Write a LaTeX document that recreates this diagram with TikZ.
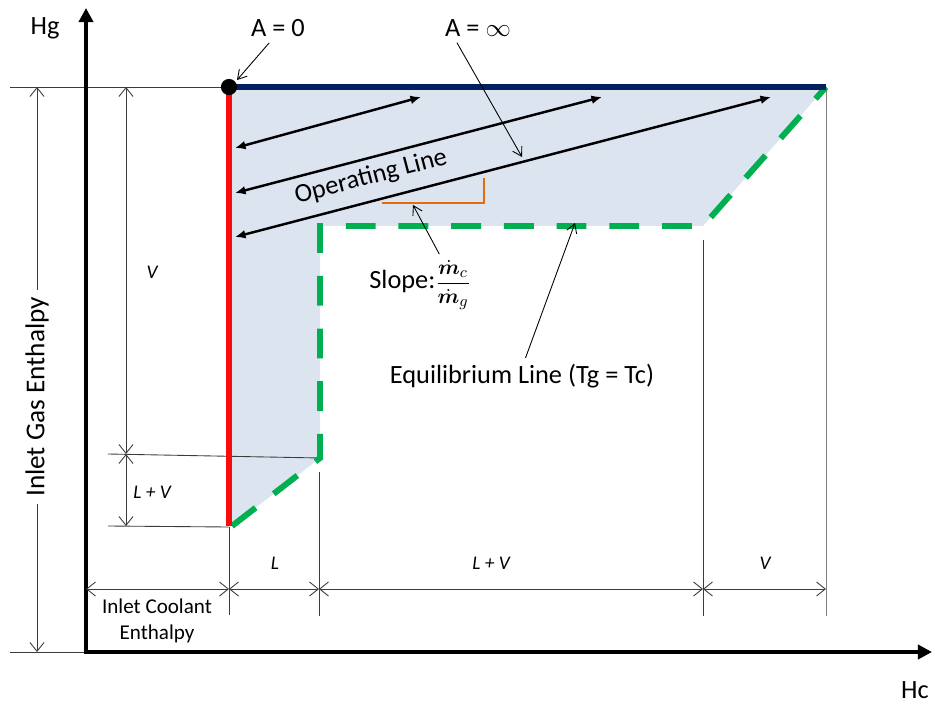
\documentclass[tikz,border=0pt]{standalone}
\usepackage{amsmath,bm}
\usepackage{fontspec}
\setmainfont{Carlito}
\usetikzlibrary{arrows.meta}
\definecolor{HeatNavy}{RGB}{0,32,96}
\definecolor{CoolRed}{RGB}{250,10,10}
\definecolor{EqGreen}{RGB}{0,176,80}
\definecolor{ShadeBlue}{RGB}{220,228,240}
\definecolor{SlopeOrange}{RGB}{228,108,10}
\definecolor{DimGray}{RGB}{60,60,60}

\begin{document}
\begin{tikzpicture}[x=0.02cm,y=-0.02cm,>=Latex,
    axis/.style={line width=2.2pt,-{Triangle[length=8pt,width=8pt]}},
    extline/.style={DimGray,line width=0.5pt},
    dimline/.style={DimGray,line width=0.5pt,{Straight Barb[length=5pt,width=8pt]}-{Straight Barb[length=5pt,width=8pt]}},
    dimarrow/.style={DimGray,line width=0.5pt,-{Straight Barb[length=5pt,width=8pt]}},
    opline/.style={line width=1.4pt,{Latex[length=6pt,width=5pt]}-{Latex[length=6pt,width=5pt]}},
    callout/.style={line width=0.5pt,-{Straight Barb[length=5pt,width=6pt]}},
    lbl/.style={font=\fontsize{15}{17}\selectfont},
    dimlbl/.style={font=\fontsize{11}{13}\selectfont\itshape}]
      \useasboundingbox (0,0) rectangle (935,709);
      \coordinate (top) at (229,87);
      \coordinate (topright) at (826,87);
      \coordinate (redend) at (229,526);
      \fill[ShadeBlue] (top) -- (topright) -- (703,226) -- (320,226) -- (320,458) -- (232,526) -- (redend) -- cycle;
      \draw[extline] (10,87) -- (top);
      \draw[extline] (10,652) -- (86,652);
      \draw[extline] (108,454) -- (320,458);
      \draw[extline] (108,526) -- (229,527);
      \draw[extline] (229,527) -- (229,615);
      \draw[extline] (319,472) -- (319,616);
      \draw[extline] (703,240) -- (703,616);
      \draw[extline,gray] (topright) -- (826,616);
      \draw[axis] (86,654) -- (86,8);
      \draw[axis] (84,652) -- (932,652);
      \draw[dimline] (126,87) -- (126,454);
      \draw[dimline] (126,454) -- (126,526);
      \draw[dimline] (86,589) -- (229,589);
      \draw[dimline] (229,589) -- (319,589);
      \draw[dimline] (319,589) -- (703,589);
      \draw[dimline] (703,589) -- (826,589);
      \node[lbl,rotate=90,fill=white,inner sep=4pt,font=\fontsize{15.5}{17}\selectfont] (gaslbl) at (37,397) {Inlet Gas Enthalpy};
      \draw[dimarrow] (gaslbl.east) -- (37,87);
      \draw[dimarrow] (gaslbl.west) -- (37,652);
      \node[dimlbl] (vlbl) at (152,272) {V};
      \node[dimlbl] (lvlbl) at (152,492) {L + V};
      \node[dimlbl] (llbl) at (275,563) {L};
      \node[dimlbl] (lvlbl2) at (491,563) {L + V};
      \node[dimlbl] (vlbl2) at (765,563) {V};
      \node[font=\fontsize{12}{15}\selectfont,align=center] (coollbl) at (157,621) {Inlet Coolant\\Enthalpy};
      \draw[EqGreen,line width=3.4pt,dash pattern=on 17pt off 13pt] (232,526) -- (320,458) -- (320,226) -- (703,226) -- (topright);
      \draw[HeatNavy,line width=3.2pt] (top) -- (topright);
      \draw[CoolRed,line width=3.2pt] (top) -- (redend);
      \fill (top) circle[radius=4.6pt];
      \foreach \ya/\xb in {148/421,193/602,237/771}
        \draw[opline] (235,\ya) -- (\xb,97);
      \draw[SlopeOrange,line width=1.3pt] (382,203) -- (484,203) -- (484,178);
      \node[lbl] (hglbl) at (45,28) {Hg};
      \node[lbl] (hclbl) at (915,690) {Hc};
      \node[lbl] (azero) at (278,28) {A = 0};
      \node[lbl] (ainf) at (478,28) {A = $\infty$};
      \node[lbl,rotate=14.7,inner sep=1pt] (oplbl) at (371,177) {Operating Line};
      \node[lbl] (slopelbl) at (420,285) {Slope:{\fontsize{13}{15}\selectfont$\dfrac{\dot{\bm m}_c}{\dot{\bm m}_g}$}};
      \node[lbl] (eqlbl) at (522,376) {Equilibrium Line (Tg = Tc)};
      \coordinate (azerotip) at (237,80);
      \coordinate (ainftip) at (522,157);
      \coordinate (slopetip) at (413,205);
      \coordinate (eqtip) at (575,223);
      \draw[callout] ([xshift=-5pt]azero.south) -- (azerotip);
      \draw[callout] ([xshift=-12pt]ainf.south) -- (ainftip);
      \draw[callout] ([xshift=11pt]slopelbl.north) -- (slopetip);
      \draw[callout] ([xshift=2pt]eqlbl.north) -- (eqtip);
    \end{tikzpicture}
\end{document}
